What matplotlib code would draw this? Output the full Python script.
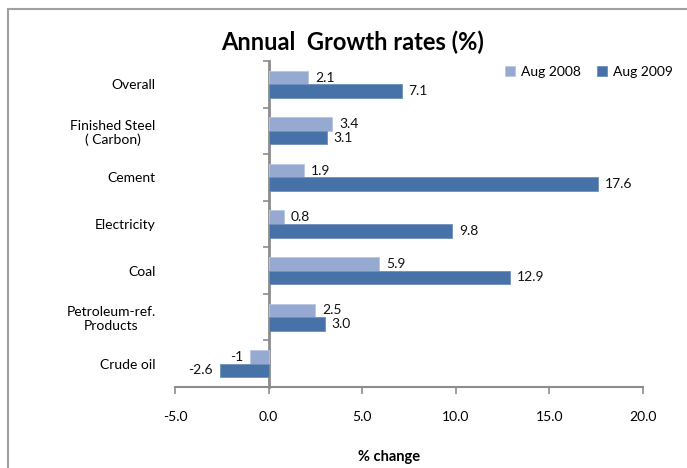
import matplotlib
matplotlib.use("Agg")
import matplotlib.pyplot as plt
import matplotlib.patches as mpatches
import numpy as np

categories = ["Overall", "Finished Steel\n( Carbon)", "Cement", "Electricity",
              "Coal", "Petroleum-ref.\nProducts", "Crude oil"]
aug2008 = [2.1, 3.4, 1.9, 0.8, 5.9, 2.5, -1.0]
aug2009 = [7.1, 3.1, 17.6, 9.8, 12.9, 3.0, -2.6]
labels2008 = ["2.1", "3.4", "1.9", "0.8", "5.9", "2.5", "-1"]
labels2009 = ["7.1", "3.1", "17.6", "9.8", "12.9", "3.0", "-2.6"]
xticks = [-5, 0, 5, 10, 15, 20]
xticklabels = ["-5.0", "0.0", "5.0", "10.0", "15.0", "20.0"]

plt.rcParams['font.family'] = ['Lato', 'DejaVu Sans']

c08 = "#95A9D1"
c09 = "#4672A8"
axis_col = "#8C8C8C"

fig = plt.figure(figsize=(6.87, 4.68), dpi=100)
ax = fig.add_axes([175/687, 1-387/468, (643-175)/687, (387-61)/468])

y = np.arange(len(categories))
h = 0.29
b1 = ax.barh(y - h/2, aug2008, height=h, color=c08, edgecolor="#B8C7E3", linewidth=0.6, label="Aug 2008")
b2 = ax.barh(y + h/2, aug2009, height=h, color=c09, edgecolor="#6E90BD", linewidth=0.6, label="Aug 2009")

for bars, labs in ((b1, labels2008), (b2, labels2009)):
    for rect, lab in zip(bars, labs):
        w = rect.get_width()
        yc = rect.get_y() + rect.get_height()/2
        if w >= 0:
            ax.annotate(lab, (w, yc), xytext=(5, 0), textcoords="offset points",
                        ha="left", va="center", fontsize=10, color="#111111")
        else:
            ax.annotate(lab, (w, yc), xytext=(-5, 0), textcoords="offset points",
                        ha="right", va="center", fontsize=10, color="#111111")

ax.set_xlim(-5, 20)
ax.set_ylim(len(categories) - 0.5, -0.5)
ax.set_xticks(xticks)
ax.set_xticklabels(xticklabels, fontsize=10)
ax.set_yticks(y)
ax.set_yticklabels(categories, fontsize=10)
for t in ax.get_yticklabels():
    t.set_multialignment("center")
ax.tick_params(axis="y", length=0, pad=14)
ax.tick_params(axis="x", length=5, width=1.2, color=axis_col, pad=12, direction="out")

for s in ("top", "right", "left"):
    ax.spines[s].set_visible(False)
ax.spines["bottom"].set_color(axis_col)
ax.spines["bottom"].set_linewidth(1.5)

# category axis crossing at zero
sec = ax.secondary_yaxis((0 - (-5)) / 25)
sec.set_ylim(ax.get_ylim())
sec.set_yticks(np.arange(-0.5, len(categories) - 0.5, 1.0))
sec.set_yticklabels([])
sec.tick_params(axis="y", length=4, width=1.2, color=axis_col, direction="out")
sec.spines["left"].set_color(axis_col)
sec.spines["left"].set_linewidth(2)

ax.set_xlabel("% change", fontsize=10.5, fontweight="bold")
ax.xaxis.set_label_coords((389-175)/468, (387-450)/326)

fig.text(353/687, 1-42/468, "Annual  Growth rates (%)", fontsize=17, fontweight="bold",
         ha="center", va="center")

leg = ax.legend(loc="upper right", bbox_to_anchor=(678/687, 1-60/468),
                bbox_transform=fig.transFigure, ncol=2, frameon=False,
                fontsize=10, handlelength=0.7, handleheight=0.7,
                handletextpad=0.4, columnspacing=1.2, borderaxespad=0)

frame = mpatches.Rectangle((8/687, -0.5), 2.0, 1.5 - 9/468, transform=fig.transFigure,
                           fill=False, edgecolor="#A0A0A0", linewidth=1.5)
fig.patches.append(frame)

fig.savefig("out.png", dpi=100)
